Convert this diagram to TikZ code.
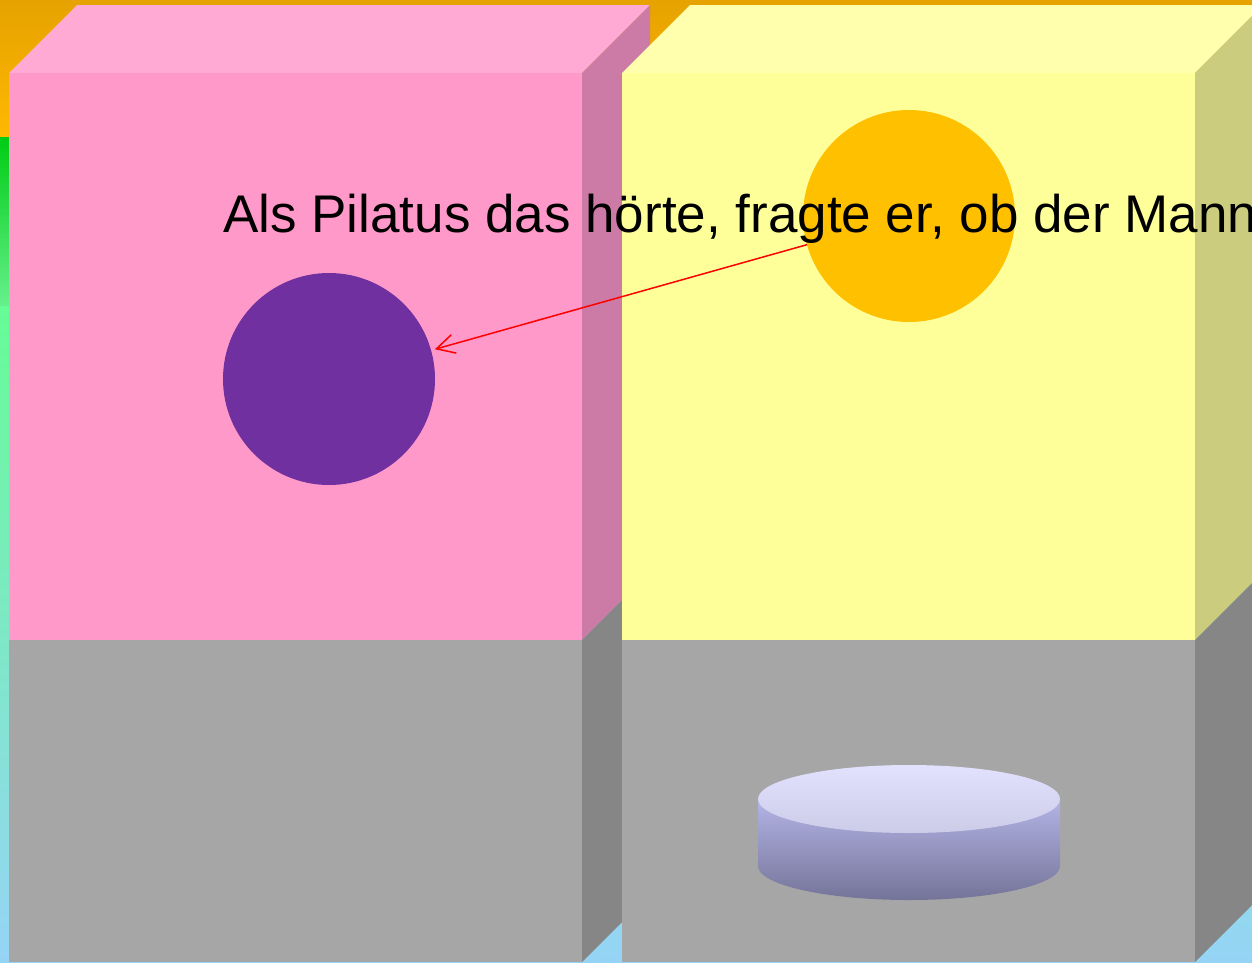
\documentclass[tikz,border=0pt]{standalone}
\usepackage{fontspec}
\setmainfont{Liberation Sans}
\usetikzlibrary{arrows.meta}

\definecolor{pinkfront}{HTML}{FF99C9}
\definecolor{pinktop}{HTML}{FFAAD4}
\definecolor{pinkside}{HTML}{CC7AA6}
\definecolor{yellowfront}{HTML}{FFFF99}
\definecolor{yellowtop}{HTML}{FFFFAD}
\definecolor{yellowside}{HTML}{CCCC7F}
\definecolor{grayfront}{HTML}{A6A6A6}
\definecolor{grayside}{HTML}{868686}
\definecolor{plum}{HTML}{7030A0}
\definecolor{amber}{HTML}{FFC000}

\newcommand{\tower}[4]{
	\fill [#3] (#1,73) --++ (68,-68) --++ (573,0) --++ (-68,68) -- cycle;
	\fill [#2] (#1,73) rectangle ++(573,567);
	\fill [grayfront] (#1,640) rectangle ++(573,322);
	\fill [#4] (#1+573,73) --++ (68,-68) --++ (0,567) --++ (-68,68) -- cycle;
	\fill [grayside] (#1+573,640) --++ (68,-68) --++ (0,322) --++ (-68,68) -- cycle;
}

\begin{document}
\begin{tikzpicture}
	[x=1pt, y=-1pt,
	ball/.style={circle, minimum size=212pt, inner sep=0pt, outer sep=0pt}]
	\clip (0,0) rectangle (1252,962);
	% backdrop
	\shade [top color={rgb,255:red,230;green,162;blue,0}, bottom color={rgb,255:red,255;green,184;blue,0}]
		(0,0) rectangle (1252,137);
	\shade [top color={rgb,255:red,0;green,204;blue,20}, bottom color={rgb,255:red,102;green,240;blue,140}]
		(0,137) rectangle (1252,306);
	\shade [top color={rgb,255:red,102;green,252;blue,150}, bottom color={rgb,255:red,150;green,212;blue,246}]
		(0,306) rectangle (1252,962);
	% boxes
	\tower{9}{pinkfront}{pinktop}{pinkside}
	\tower{622}{yellowfront}{yellowtop}{yellowside}
	% balls
	\node [ball, fill=plum] (plum) at (329,379) {};
	\node [ball, fill=amber] (amber) at (909,216) {};
	% disc
	\shade [top color={rgb,255:red,180;green,180;blue,230}, bottom color={rgb,255:red,116;green,116;blue,153}]
		(758,799) -- (758,866) arc [start angle=180, end angle=360, x radius=151, y radius=-34]
		-- (1060,799) -- cycle;
	\shade [top color={rgb,255:red,226;green,226;blue,255}, bottom color={rgb,255:red,204;green,204;blue,232}]
		(909,799) ellipse [x radius=151, y radius=34];
	% link
	\draw [red, line width=1.5pt, shorten >=4pt, -{Straight Barb[length=18pt, width=19pt]}] (amber) -- (plum);
	\node [anchor=base west, inner sep=0pt, font=\fontsize{53}{63}\selectfont] (line) at (223,232)
		{Als Pilatus das hörte, fragte er, ob der Mann};
\end{tikzpicture}
\end{document}
